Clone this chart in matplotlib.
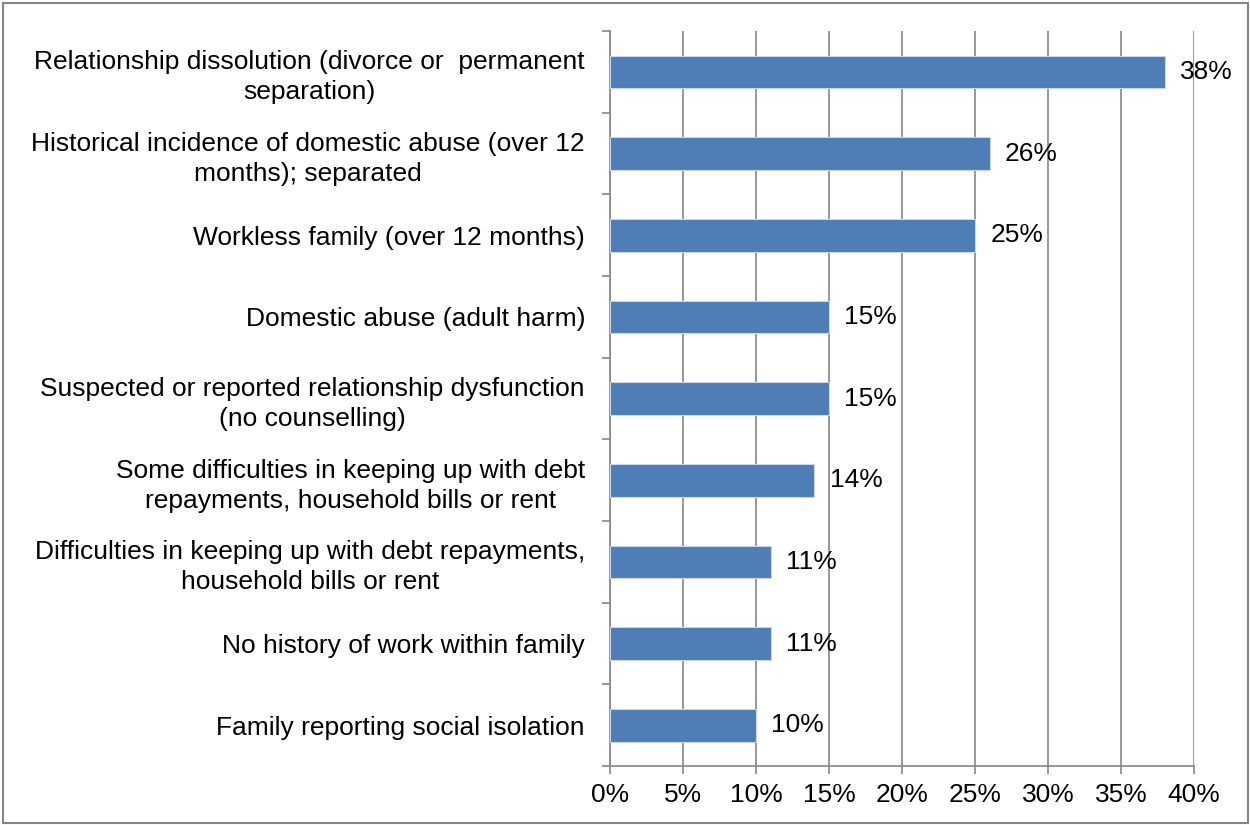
import matplotlib
matplotlib.use("Agg")
import matplotlib.pyplot as plt
from matplotlib.patches import Rectangle
from matplotlib.ticker import MultipleLocator, FuncFormatter

categories = [
    "Relationship dissolution (divorce or  permanent\nseparation)",
    "Historical incidence of domestic abuse (over 12\nmonths); separated",
    "Workless family (over 12 months)",
    "Domestic abuse (adult harm)",
    "Suspected or reported relationship dysfunction\n(no counselling)",
    "Some difficulties in keeping up with debt\nrepayments, household bills or rent",
    "Difficulties in keeping up with debt repayments,\nhousehold bills or rent",
    "No history of work within family",
    "Family reporting social isolation",
]
values = [38, 26, 25, 15, 15, 14, 11, 11, 10]

plt.rcParams["font.family"] = ["Liberation Sans", "DejaVu Sans"]

fig = plt.figure(figsize=(12.5, 8.25), dpi=100)
ax = fig.add_axes([0.488, 0.0715, 0.9552 - 0.488, 0.9624 - 0.0715])

grey = "#868686"
bar_color = "#4F7DB5"
fs = 19

n = len(categories)
ypos = list(range(n))
ax.barh(ypos, values, height=0.4, color=bar_color, edgecolor="#C9D6E8",
        linewidth=0.8, zorder=3)

for y, v in zip(ypos, values):
    ax.annotate(f"{v}%", (v, y), xytext=(11, 0), textcoords="offset points",
                va="center", ha="left", fontsize=fs, color="black", zorder=4)

ax.set_xlim(0, 40)
ax.set_ylim(n - 0.5, -0.5)
ax.xaxis.set_major_locator(MultipleLocator(5))
ax.xaxis.set_major_formatter(FuncFormatter(lambda x, p: f"{x:.0f}%"))

ax.set_yticks(ypos)
ax.set_yticklabels(categories, fontsize=fs)
for lbl in ax.get_yticklabels():
    lbl.set_multialignment("center")
    lbl.set_linespacing(1.32)
ax.tick_params(axis="y", which="major", length=0, pad=18)
ax.set_yticks([i - 0.5 for i in range(n + 1)], minor=True)
ax.tick_params(axis="y", which="minor", length=6, width=1.2, color=grey)
ax.tick_params(axis="x", length=5.5, width=1.2, color=grey, labelsize=fs, pad=7)

ax.grid(axis="x", color=grey, linewidth=1.2, zorder=0)
ax.set_axisbelow(True)
for s in ["top", "right"]:
    ax.spines[s].set_visible(False)
for s in ["left", "bottom"]:
    ax.spines[s].set_color(grey)
    ax.spines[s].set_linewidth(1.2)

fig.patches.append(Rectangle((0.002, 0.002), 0.996, 0.994, transform=fig.transFigure,
                             fill=False, edgecolor=grey, linewidth=1.5))

fig.savefig("out.png", dpi=100)
